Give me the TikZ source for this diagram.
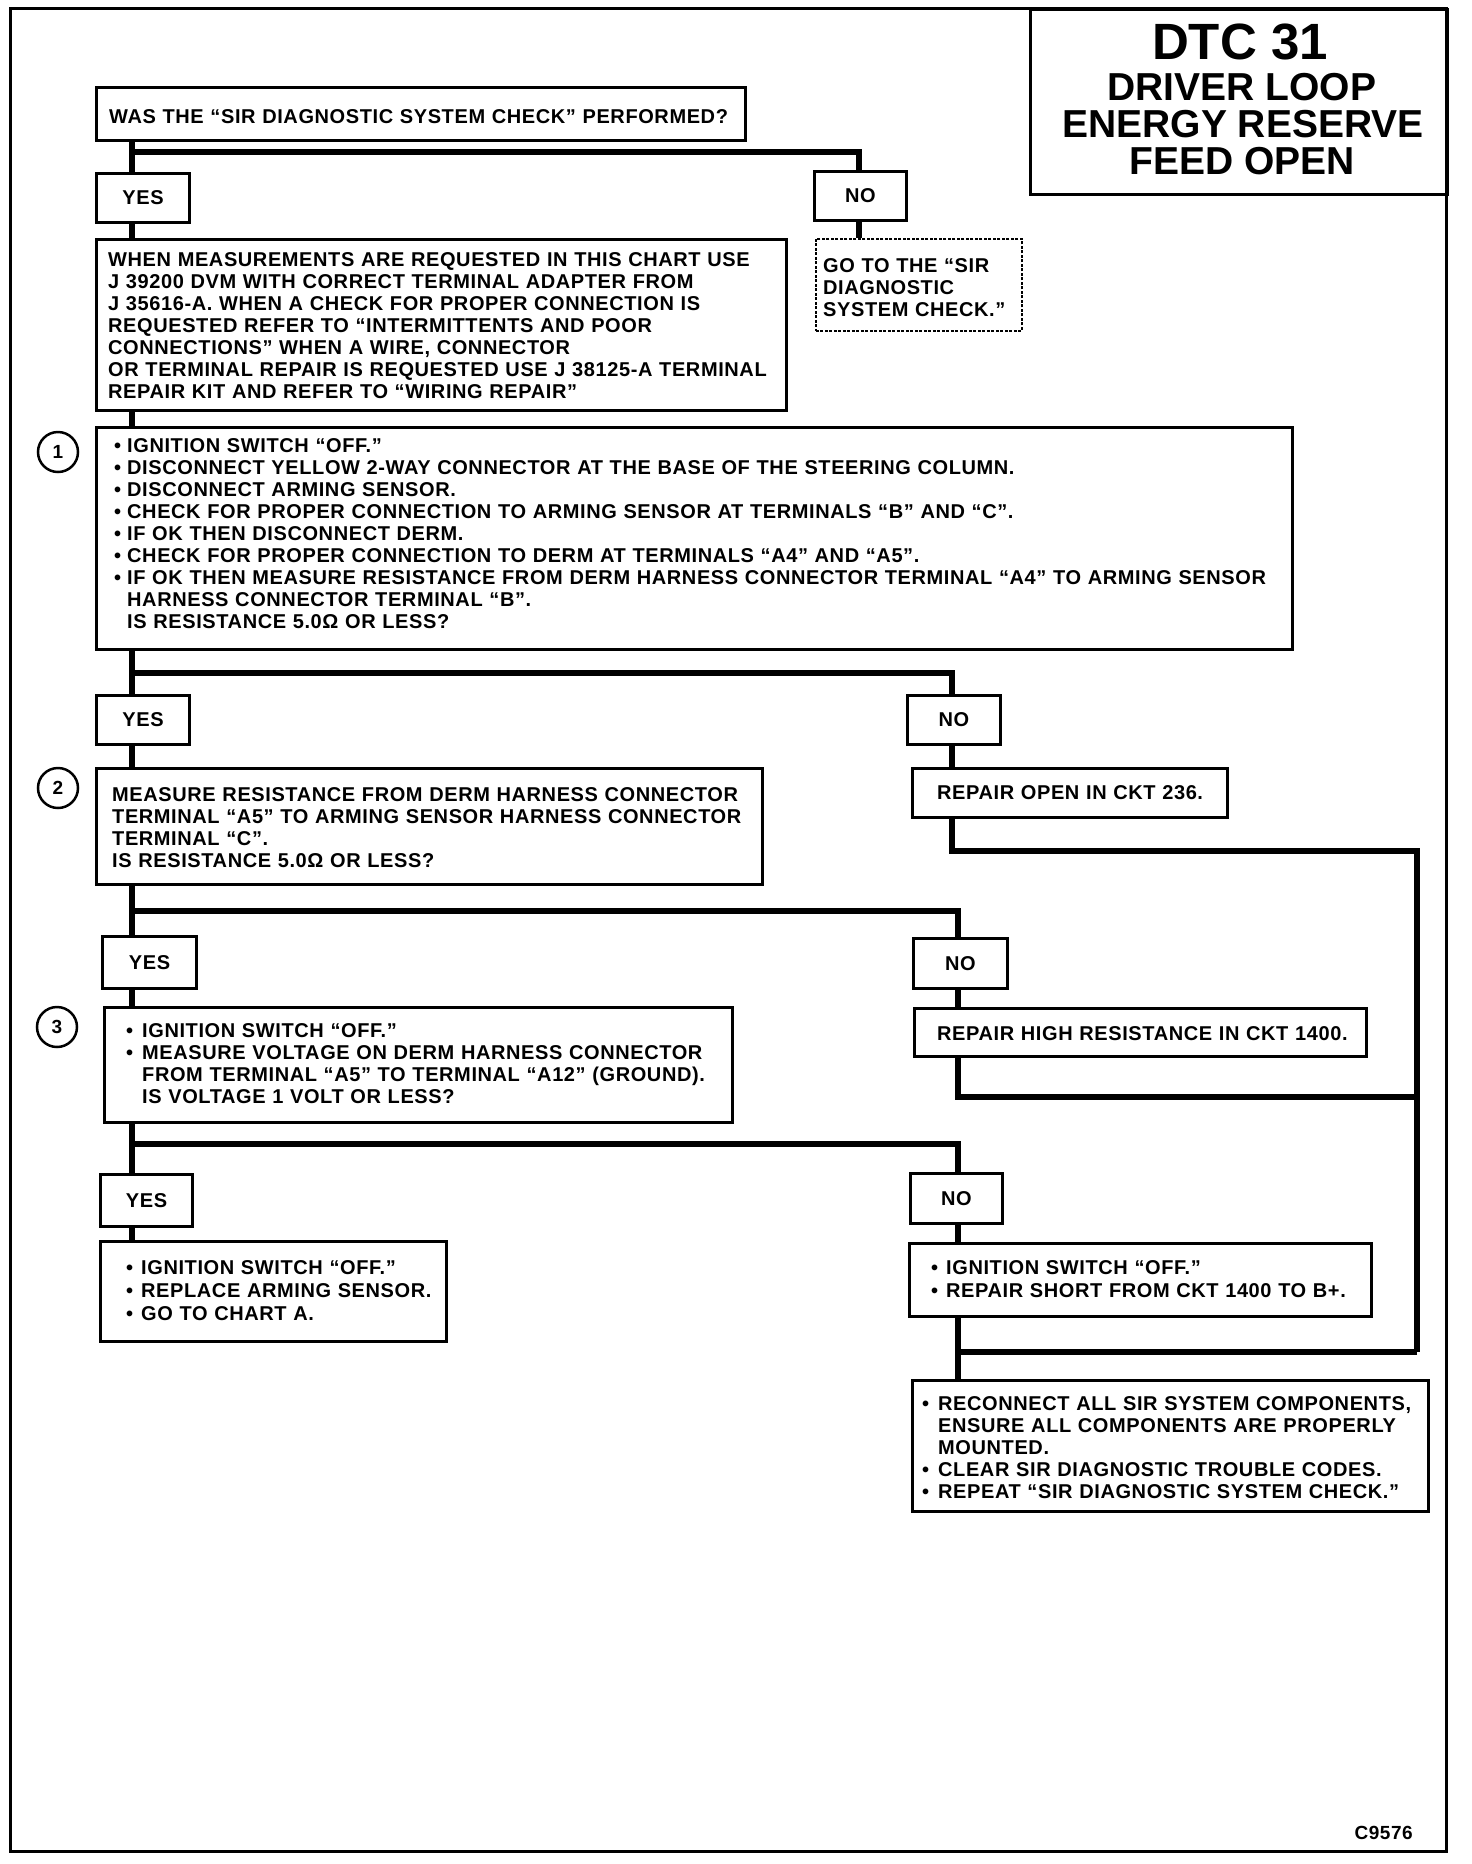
\documentclass[tikz,border=0pt]{standalone}
\usepackage{fontspec}
\setmainfont{Liberation Sans}
\newfontfamily\bodyfam{Liberation Sans}[LetterSpace=3]
\newcommand\bodyf{\bodyfam\fontsize{20}{22}\selectfont\bfseries}
\newcommand\bl[1]{\makebox[#1][l]{•}}
\newcommand\hi[1]{\hspace*{#1}}
\begin{document}
\begin{tikzpicture}[x=1pt,y=-1pt,
  box/.style={draw, line width=3pt, inner sep=0pt, anchor=north west},
  dbox/.style={draw, line width=1.6pt, dash pattern=on 3pt off 1.5pt, inner sep=0pt, anchor=north west},
  lbl/.style={font=\bodyf, inner sep=0pt},
  txt/.style={anchor=base west, inner sep=0pt, align=left, text width=1250pt, font=\bodyf},
  conn/.style={line width=5.5pt},
  circ/.style={draw, circle, line width=2.5pt, minimum size=40pt, inner sep=0pt, font=\fontsize{19}{19}\selectfont\bfseries},
  ttl/.style={anchor=base, inner sep=0pt, font=\fontsize{39}{39}\selectfont\bfseries}]
\useasboundingbox (0,0) rectangle (1472,1864);
% outer frame
\draw[line width=3pt] (10,8) rectangle (1446,1851);
% columns
\coordinate (colL) at (132,0);
\coordinate (colA) at (859,0);
\coordinate (colB) at (952,0);
\coordinate (colC) at (958,0);
\coordinate (colR) at (1417,0);
% title
\node[box, minimum width=417pt, minimum height=185pt] (title) at (1029,8) {};
\node[ttl, font=\fontsize{51}{51}\selectfont\bfseries] (t1) at (1240,59) {DTC 31};
\node[ttl] (t2) at (1242,100) {DRIVER LOOP};
\node[ttl] (t3) at (1243,137) {ENERGY RESERVE};
\node[ttl] (t4) at (1242,174) {FEED OPEN};
% boxes
\node[box, minimum width=649pt, minimum height=53pt] (q0) at (95,86) {};
\node[box, minimum width=93pt, minimum height=49pt] (yesA) at (95,172) {};
\node[box, minimum width=92pt, minimum height=49pt] (noA) at (813,170) {};
\node[box, minimum width=690pt, minimum height=171pt] (info) at (95,238) {};
\node[dbox, minimum width=206pt, minimum height=92pt] (goto) at (815,238) {};
\node[box, minimum width=1196pt, minimum height=222pt] (s1) at (95,426) {};
\node[box, minimum width=93pt, minimum height=49pt] (yesB) at (95,694) {};
\node[box, minimum width=93pt, minimum height=49pt] (noB) at (906,694) {};
\node[box, minimum width=666pt, minimum height=116pt] (s2) at (95,767) {};
\node[box, minimum width=315pt, minimum height=49pt] (rOpen) at (911,767) {};
\node[box, minimum width=94pt, minimum height=52pt] (yesC) at (101,935) {};
\node[box, minimum width=94pt, minimum height=50pt] (noC) at (912,937) {};
\node[box, minimum width=628pt, minimum height=115pt] (s3) at (103,1006) {};
\node[box, minimum width=452pt, minimum height=48pt] (rHigh) at (913,1007) {};
\node[box, minimum width=92pt, minimum height=52pt] (yesD) at (99,1173) {};
\node[box, minimum width=92pt, minimum height=50pt] (noD) at (909,1172) {};
\node[box, minimum width=346pt, minimum height=100pt] (fYes) at (99,1240) {};
\node[box, minimum width=462pt, minimum height=73pt] (fNo) at (908,1242) {};
\node[box, minimum width=516pt, minimum height=131pt] (rec) at (911,1379) {};
% circles
\node[circ] (c1) at (58,452) {1};
\node[circ] (c2) at (58,788) {2};
\node[circ] (c3) at (57,1027) {3};
% labels
\node[lbl] (lyA) at (yesA) {YES};
\node[lbl] (lnA) at (noA) {NO};
\node[lbl] (lyB) at (yesB) {YES};
\node[lbl] (lnB) at (noB) {NO};
\node[lbl] (lyC) at (yesC) {YES};
\node[lbl] (lnC) at (noC) {NO};
\node[lbl] (lyD) at (yesD) {YES};
\node[lbl] (lnD) at (noD) {NO};
% texts
\node[txt] (tq0) at (109,123) {WAS THE “SIR DIAGNOSTIC SYSTEM CHECK” PERFORMED?};
\node[txt] (tinfo) at (108,266) {WHEN MEASUREMENTS ARE REQUESTED IN THIS CHART USE\\
J 39200 DVM WITH CORRECT TERMINAL ADAPTER FROM\\
J 35616-A. WHEN A CHECK FOR PROPER CONNECTION IS\\
REQUESTED REFER TO “INTERMITTENTS AND POOR\\
CONNECTIONS” WHEN A WIRE, CONNECTOR\\
OR TERMINAL REPAIR IS REQUESTED USE J 38125-A TERMINAL\\
REPAIR KIT AND REFER TO “WIRING REPAIR”};
\node[txt] (tgoto) at (823,272) {GO TO THE “SIR\\ DIAGNOSTIC\\ SYSTEM CHECK.”};
\node[txt] (ts1) at (114,452) {\bl{13pt}IGNITION SWITCH “OFF.”\\
\bl{13pt}DISCONNECT YELLOW 2-WAY CONNECTOR AT THE BASE OF THE STEERING COLUMN.\\
\bl{13pt}DISCONNECT ARMING SENSOR.\\
\bl{13pt}CHECK FOR PROPER CONNECTION TO ARMING SENSOR AT TERMINALS “B” AND “C”.\\
\bl{13pt}IF OK THEN DISCONNECT DERM.\\
\bl{13pt}CHECK FOR PROPER CONNECTION TO DERM AT TERMINALS “A4” AND “A5”.\\
\bl{13pt}IF OK THEN MEASURE RESISTANCE FROM DERM HARNESS CONNECTOR TERMINAL “A4” TO ARMING SENSOR\\
\hi{13pt}HARNESS CONNECTOR TERMINAL “B”.\\
\hi{13pt}IS RESISTANCE 5.0Ω OR LESS?};
\node[txt] (ts2) at (112,801) {MEASURE RESISTANCE FROM DERM HARNESS CONNECTOR\\
TERMINAL “A5” TO ARMING SENSOR HARNESS CONNECTOR\\
TERMINAL “C”.\\
IS RESISTANCE 5.0Ω OR LESS?};
\node[txt] (trOpen) at (937,799) {REPAIR OPEN IN CKT 236.};
\node[txt] (ts3) at (126,1037) {\bl{16pt}IGNITION SWITCH “OFF.”\\
\bl{16pt}MEASURE VOLTAGE ON DERM HARNESS CONNECTOR\\
\hi{16pt}FROM TERMINAL “A5” TO TERMINAL “A12” (GROUND).\\
\hi{16pt}IS VOLTAGE 1 VOLT OR LESS?};
\node[txt] (trHigh) at (937,1040) {REPAIR HIGH RESISTANCE IN CKT 1400.};
\node[txt, font=\bodyfam\fontsize{20}{23}\selectfont\bfseries] (tfYes) at (126,1274) {\bl{15pt}IGNITION SWITCH “OFF.”\\
\bl{15pt}REPLACE ARMING SENSOR.\\
\bl{15pt}GO TO CHART A.};
\node[txt, font=\bodyfam\fontsize{20}{23}\selectfont\bfseries] (tfNo) at (931,1274) {\bl{15pt}IGNITION SWITCH “OFF.”\\
\bl{15pt}REPAIR SHORT FROM CKT 1400 TO B+.};
\node[txt] (trec) at (922,1410) {\bl{16pt}RECONNECT ALL SIR SYSTEM COMPONENTS,\\
\hi{16pt}ENSURE ALL COMPONENTS ARE PROPERLY\\
\hi{16pt}MOUNTED.\\
\bl{16pt}CLEAR SIR DIAGNOSTIC TROUBLE CODES.\\
\bl{16pt}REPEAT “SIR DIAGNOSTIC SYSTEM CHECK.”};
\node[anchor=base east, inner sep=0pt, font=\bodyfam\fontsize{19}{19}\selectfont\bfseries] (code) at (1413,1839) {C9576};
% branch points
\coordinate (br0) at (132,152);
\coordinate (br1) at (132,673);
\coordinate (br2) at (132,911);
\coordinate (br3) at (132,1144);
\coordinate (rt) at (1417,851);
\coordinate (rm) at (1417,1097);
\coordinate (rb) at (1417,1352);
% connectors
\draw[conn] (q0.south -| colL) -- (yesA.north -| colL);
\draw[conn] (br0) -| (noA.north -| colA);
\draw[conn] (yesA.south -| colL) -- (info.north -| colL);
\draw[conn] (noA.south -| colA) -- (goto.north -| colA);
\draw[conn] (info.south -| colL) -- (s1.north -| colL);
\draw[conn] (s1.south -| colL) -- (yesB.north -| colL);
\draw[conn] (br1) -| (noB.north -| colB);
\draw[conn] (yesB.south -| colL) -- (s2.north -| colL);
\draw[conn] (noB.south -| colB) -- (rOpen.north -| colB);
\draw[conn] (rOpen.south -| colB) |- (rt) -- (rb);
\draw[conn] (s2.south -| colL) -- (yesC.north -| colL);
\draw[conn] (br2) -| (noC.north -| colC);
\draw[conn] (yesC.south -| colL) -- (s3.north -| colL);
\draw[conn] (noC.south -| colC) -- (rHigh.north -| colC);
\draw[conn] (rHigh.south -| colC) |- (rm);
\draw[conn] (s3.south -| colL) -- (yesD.north -| colL);
\draw[conn] (br3) -| (noD.north -| colC);
\draw[conn] (yesD.south -| colL) -- (fYes.north -| colL);
\draw[conn] (noD.south -| colC) -- (fNo.north -| colC);
\draw[conn] (fNo.south -| colC) -- (rec.north -| colC);
\draw[conn] (rb) -- (rb -| colC);
\end{tikzpicture}
\end{document}
